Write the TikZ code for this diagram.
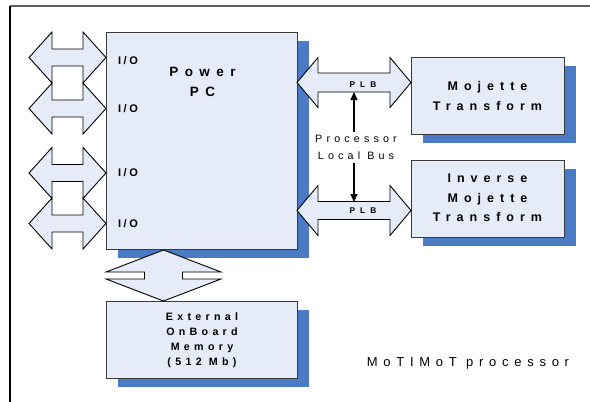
\documentclass[tikz,border=0pt]{standalone}
\usepackage{fontspec}
\setmainfont{Liberation Sans}
\newfontfamily\fPPC{Liberation Sans}[LetterSpace=48]
\newfontfamily\fPLB{Liberation Sans}[LetterSpace=62]
\newfontfamily\fIO{Liberation Sans}[LetterSpace=24]
\newfontfamily\fMem{Liberation Sans}[LetterSpace=40]
\newfontfamily\fBus{Liberation Sans}[LetterSpace=39]
\newfontfamily\fReg{Liberation Sans}[LetterSpace=44]
\usetikzlibrary{arrows.meta,shadows}
\definecolor{boxfill}{HTML}{E6ECF7}
\definecolor{shadowblue}{HTML}{4A7BC4}
\definecolor{edgegrey}{HTML}{3A3A3A}
\definecolor{framegrey}{HTML}{606060}
\newcommand{\HArrow}[6]{% x1 x2 y headlen headhalf shafthalf
  \draw[blockarrow] (#1,#3) -- ({#1+#4},{#3-#5}) -- ({#1+#4},{#3-#6}) -- ({#2-#4},{#3-#6})
    -- ({#2-#4},{#3-#5}) -- (#2,#3) -- ({#2-#4},{#3+#5}) -- ({#2-#4},{#3+#6})
    -- ({#1+#4},{#3+#6}) -- ({#1+#4},{#3+#5}) -- cycle;}
\newcommand{\VArrow}[6]{% y1 y2 x headlen headhalf shafthalf
  \draw[blockarrow] (#3,#1) -- ({#3+#5},{#1+#4}) -- ({#3+#6},{#1+#4}) -- ({#3+#6},{#2-#4})
    -- ({#3+#5},{#2-#4}) -- (#3,#2) -- ({#3-#5},{#2-#4}) -- ({#3-#6},{#2-#4})
    -- ({#3-#6},{#1+#4}) -- ({#3-#5},{#1+#4}) -- cycle;}
\begin{document}
\begin{tikzpicture}[x=1pt,y=-1pt,
  blockbox/.style={rectangle, draw=edgegrey, line width=1.2pt, fill=boxfill, inner sep=0pt,
    anchor=north west, drop shadow={shadow xshift=11.5pt, shadow yshift=-8pt, fill=shadowblue, opacity=1}},
  blockarrow/.style={draw=black, line width=0.9pt, fill=boxfill, line join=miter},
  iotext/.style={font=\fIO\bfseries\fontsize{11}{13}\selectfont, anchor=base, inner sep=0pt},
  ppctext/.style={font=\fPPC\bfseries\fontsize{13.5}{19.4}\selectfont, align=center, inner sep=0pt},
  tftext/.style={font=\fPPC\bfseries\fontsize{12.5}{19.5}\selectfont, align=center, inner sep=0pt},
  plbtext/.style={font=\fPLB\bfseries\fontsize{8.3}{9}\selectfont, inner sep=0pt},
  memtext/.style={font=\fMem\bfseries\fontsize{10.7}{15}\selectfont, align=center, inner sep=0pt},
  bustext/.style={font=\fBus\fontsize{10.7}{17.5}\selectfont, align=center, fill=white, inner sep=3pt},
  titletext/.style={font=\fReg\fontsize{13}{15}\selectfont, anchor=base, inner sep=0pt}]
\useasboundingbox (0,0) rectangle (590,402);
\fill[white] (0,0) rectangle (590,402);
% frame
\draw[framegrey, line width=1.4pt] (10,6) -- (590,6);
\draw[black, line width=1.2pt] (10,6) -- (10,402);
% boxes
\node[blockbox, minimum width=191pt, minimum height=217pt] (ppc) at (106,32) {};
\node[blockbox, minimum width=153pt, minimum height=77pt] (moj) at (411,57) {};
\node[blockbox, minimum width=153pt, minimum height=77pt] (inv) at (411,160) {};
\node[blockbox, minimum width=191pt, minimum height=77pt] (mem) at (106,301) {};
% I/O block arrows
\HArrow{29}{106}{57.5}{23}{25.5}{8.5}
\HArrow{29}{106}{108.5}{23}{25.5}{8.5}
\HArrow{29}{106}{173}{23}{25.5}{8.5}
\HArrow{29}{106}{223.5}{23}{25.5}{8.5}
% PLB block arrows
\HArrow{297}{411}{82.5}{21}{25}{9.5}
\HArrow{297}{411}{210.5}{21}{25}{9}
% memory block arrow
\VArrow{250}{301}{163.5}{22}{57.5}{19}
% labels
\node[iotext] (io1) at (128,64.6) {I/O};
\node[iotext] (io2) at (128,112.2) {I/O};
\node[iotext] (io3) at (128,176.6) {I/O};
\node[iotext] (io4) at (128,227.2) {I/O};
\node[ppctext] (ppclabel) at (202.5,82) {Power\\PC};
\node[tftext] (mojlabel) at (487.5,96) {Mojette\\Transform};
\node[tftext] (invlabel) at (487.5,198) {Inverse\\Mojette\\Transform};
\node[memtext] (memlabel) at (202,340.6) {External\\OnBoard\\Memory\\(512 Mb)};
\node[plbtext] (plbup) at (363,85) {PLB};
\node[plbtext] (plbdown) at (363,210.5) {PLB};
% processor local bus connector
\coordinate (bustop) at (354,92);
\coordinate (busbot) at (354,202);
\draw[black, line width=1.1pt, {Triangle[length=8pt,width=7pt]}-{Triangle[length=8pt,width=7pt]}] (bustop) -- (busbot);
\node[bustext] (buslabel) at (356,147.6) {Processor\\Local Bus};
\node[titletext] (title) at (468,366.7) {MoTIMoT processor};
\end{tikzpicture}
\end{document}
